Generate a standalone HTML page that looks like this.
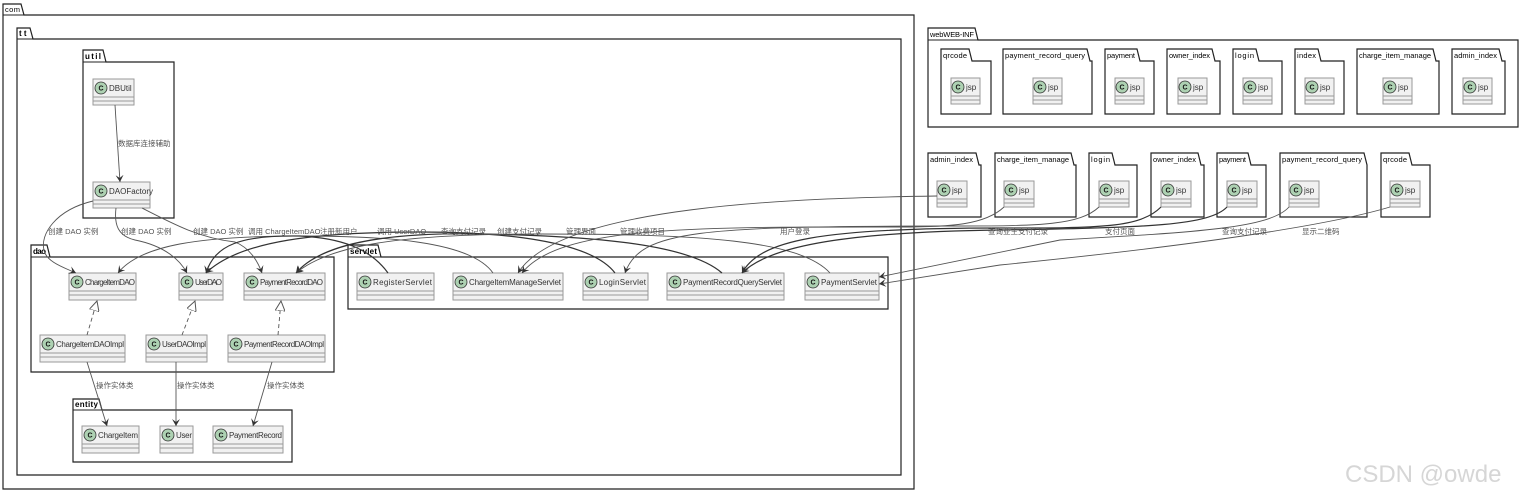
<!DOCTYPE html>
<html><head><meta charset="utf-8"><style>
html,body{margin:0;padding:0;background:#fff}
svg{display:block}
text{font-family:"Liberation Sans","Noto Sans CJK SC",sans-serif}
.pk{fill:#fff;stroke:#222;stroke-width:1.2}
.pt{font-size:8px;font-weight:bold;fill:#000}
.pn{font-size:7.5px;fill:#000}
.cb{fill:#F1F1F1;stroke:#999;stroke-width:1}
.cl{stroke:#999;stroke-width:1}
.cc{fill:#ADD1B2;stroke:#333;stroke-width:0.8}
.ct{font-size:7px;font-weight:bold;fill:#111}
.cn{font-size:8px;fill:#333}
.ln{fill:none;stroke:#555;stroke-width:0.9}
.lb{font-size:7.5px;fill:#555}
</style></head><body>
<svg width="1528" height="497" viewBox="0 0 1528 497" xmlns="http://www.w3.org/2000/svg">
<defs>
<marker id="a" markerWidth="8" markerHeight="8" refX="7" refY="4" orient="auto" markerUnits="userSpaceOnUse"><path d="M0,0 L7,4 L0,8 L3,4 Z" fill="#333"/></marker>
<marker id="t" markerWidth="12" markerHeight="10" refX="10" refY="5" orient="auto" markerUnits="userSpaceOnUse"><path d="M0,0 L10,5 L0,10 Z" fill="#fff" stroke="#555"/></marker>
</defs>

<!-- com -->
<path class="pk" d="M3,4 H21 L24,15 H914 V489 H3 Z"/><line x1="3" y1="15" x2="24" y2="15" stroke="#222"/>
<text class="pn" x="5" y="12" textLength="15">com</text>
<!-- tt -->
<path class="pk" d="M17,28 H30 L33,39 H901 V475 H17 Z"/><line x1="17" y1="39" x2="33" y2="39" stroke="#222"/>
<text class="pt" x="19" y="36">t t</text>
<!-- util -->
<path class="pk" d="M83,50 H103 L106,62 H174 V218 H83 Z"/><line x1="83" y1="62" x2="106" y2="62" stroke="#222"/>
<text class="pt" x="85" y="59" textLength="16">util</text>
<!-- dao -->
<path class="pk" d="M31,245 H47 L50,257 H334 V372 H31 Z"/><line x1="31" y1="257" x2="50" y2="257" stroke="#222"/>
<text class="pt" x="33" y="254" textLength="13">dao</text>
<!-- entity -->
<path class="pk" d="M73,399 H99 L102,410 H292 V462 H73 Z"/><line x1="73" y1="410" x2="102" y2="410" stroke="#222"/>
<text class="pt" x="75" y="407" textLength="23">entity</text>
<!-- servlet -->
<path class="pk" d="M348,245 H378 L381,257 H888 V309 H348 Z"/><line x1="348" y1="257" x2="381" y2="257" stroke="#222"/>
<text class="pt" x="350" y="254" textLength="27">servlet</text>

<!-- webWEB-INF -->
<path class="pk" d="M928,28 H975 L978,40 H1518 V127 H928 Z"/><line x1="928" y1="40" x2="978" y2="40" stroke="#222"/>
<text class="pn" x="930" y="37" textLength="44">webWEB-INF</text>

<!-- row1 packages -->
<path class="pk" d="M941,49 H969 L972,61 H991 V114 H941 Z"/><text class="pn" x="943" y="58" textLength="24">qrcode</text>
<path class="pk" d="M1003,49 H1087 L1090,61 H1092 V114 H1003 Z"/><text class="pn" x="1005" y="58" textLength="80">payment_record_query</text>
<path class="pk" d="M1105,49 H1137 L1140,61 H1154 V114 H1105 Z"/><text class="pn" x="1107" y="58" textLength="28">payment</text>
<path class="pk" d="M1167,49 H1212 L1215,61 H1220 V114 H1167 Z"/><text class="pn" x="1169" y="58" textLength="41">owner_index</text>
<path class="pk" d="M1233,49 H1256 L1259,61 H1282 V114 H1233 Z"/><text class="pn" x="1235" y="58" textLength="19">login</text>
<path class="pk" d="M1295,49 H1318 L1321,61 H1344 V114 H1295 Z"/><text class="pn" x="1297" y="58" textLength="19">index</text>
<path class="pk" d="M1357,49 H1433 L1436,61 H1439 V114 H1357 Z"/><text class="pn" x="1359" y="58" textLength="72">charge_item_manage</text>
<path class="pk" d="M1452,49 H1499 L1502,61 H1505 V114 H1452 Z"/><text class="pn" x="1454" y="58" textLength="43">admin_index</text>

<!-- row2 packages -->
<path class="pk" d="M928,153 H976 L979,165 H981 V217 H928 Z"/><text class="pn" x="930" y="162" textLength="43">admin_index</text>
<path class="pk" d="M995,153 H1071 L1074,165 H1076 V217 H995 Z"/><text class="pn" x="997" y="162" textLength="72">charge_item_manage</text>
<path class="pk" d="M1089,153 H1112 L1115,165 H1137 V217 H1089 Z"/><text class="pn" x="1091" y="162" textLength="19">login</text>
<path class="pk" d="M1151,153 H1198 L1201,165 H1204 V217 H1151 Z"/><text class="pn" x="1153" y="162" textLength="43">owner_index</text>
<path class="pk" d="M1217,153 H1248 L1251,165 H1266 V217 H1217 Z"/><text class="pn" x="1219" y="162" textLength="27">payment</text>
<path class="pk" d="M1280,153 H1364 L1367,165 H1367 V217 H1280 Z"/><text class="pn" x="1282" y="162" textLength="80">payment_record_query</text>
<path class="pk" d="M1381,153 H1409 L1412,165 H1430 V217 H1381 Z"/><text class="pn" x="1383" y="162" textLength="24">qrcode</text>

<!-- classes -->
<g>
<rect class="cb" x="93" y="79" width="41" height="26"/><line class="cl" x1="93" y1="97" x2="134" y2="97"/><line class="cl" x1="93" y1="101" x2="134" y2="101"/><circle class="cc" cx="101" cy="88" r="6"/><text class="ct" x="98.5" y="90.5">C</text><text class="cn" x="109" y="91">DBUtil</text>
<rect class="cb" x="93" y="182" width="57" height="26"/><line class="cl" x1="93" y1="200" x2="150" y2="200"/><line class="cl" x1="93" y1="204" x2="150" y2="204"/><circle class="cc" cx="101" cy="191" r="6"/><text class="ct" x="98.5" y="193.5">C</text><text class="cn" x="109" y="194">DAOFactory</text>

<rect class="cb" x="69" y="273" width="67" height="27"/><line class="cl" x1="69" y1="291" x2="136" y2="291"/><line class="cl" x1="69" y1="295" x2="136" y2="295"/><circle class="cc" cx="77" cy="282" r="6"/><text class="ct" x="74.5" y="284.5">C</text><text class="cn" x="85" y="285" textLength="50">ChargeItemDAO</text>
<rect class="cb" x="179" y="273" width="44" height="27"/><line class="cl" x1="179" y1="291" x2="223" y2="291"/><line class="cl" x1="179" y1="295" x2="223" y2="295"/><circle class="cc" cx="187" cy="282" r="6"/><text class="ct" x="184.5" y="284.5">C</text><text class="cn" x="195" y="285" textLength="27">UserDAO</text>
<rect class="cb" x="244" y="273" width="81" height="27"/><line class="cl" x1="244" y1="291" x2="325" y2="291"/><line class="cl" x1="244" y1="295" x2="325" y2="295"/><circle class="cc" cx="252" cy="282" r="6"/><text class="ct" x="249.5" y="284.5">C</text><text class="cn" x="260" y="285" textLength="63">PaymentRecordDAO</text>

<rect class="cb" x="40" y="335" width="85" height="27"/><line class="cl" x1="40" y1="353" x2="125" y2="353"/><line class="cl" x1="40" y1="357" x2="125" y2="357"/><circle class="cc" cx="48" cy="344" r="6"/><text class="ct" x="45.5" y="346.5">C</text><text class="cn" x="56" y="347" textLength="68">ChargeItemDAOImpl</text>
<rect class="cb" x="146" y="335" width="61" height="27"/><line class="cl" x1="146" y1="353" x2="207" y2="353"/><line class="cl" x1="146" y1="357" x2="207" y2="357"/><circle class="cc" cx="154" cy="344" r="6"/><text class="ct" x="151.5" y="346.5">C</text><text class="cn" x="162" y="347" textLength="44">UserDAOImpl</text>
<rect class="cb" x="228" y="335" width="97" height="27"/><line class="cl" x1="228" y1="353" x2="325" y2="353"/><line class="cl" x1="228" y1="357" x2="325" y2="357"/><circle class="cc" cx="236" cy="344" r="6"/><text class="ct" x="233.5" y="346.5">C</text><text class="cn" x="244" y="347" textLength="80">PaymentRecordDAOImpl</text>

<rect class="cb" x="82" y="426" width="57" height="27"/><line class="cl" x1="82" y1="444" x2="139" y2="444"/><line class="cl" x1="82" y1="448" x2="139" y2="448"/><circle class="cc" cx="90" cy="435" r="6"/><text class="ct" x="87.5" y="437.5">C</text><text class="cn" x="98" y="438" textLength="40">ChargeItem</text>
<rect class="cb" x="160" y="426" width="33" height="27"/><line class="cl" x1="160" y1="444" x2="193" y2="444"/><line class="cl" x1="160" y1="448" x2="193" y2="448"/><circle class="cc" cx="168" cy="435" r="6"/><text class="ct" x="165.5" y="437.5">C</text><text class="cn" x="176" y="438" textLength="16">User</text>
<rect class="cb" x="213" y="426" width="70" height="27"/><line class="cl" x1="213" y1="444" x2="283" y2="444"/><line class="cl" x1="213" y1="448" x2="283" y2="448"/><circle class="cc" cx="221" cy="435" r="6"/><text class="ct" x="218.5" y="437.5">C</text><text class="cn" x="229" y="438" textLength="53">PaymentRecord</text>

<rect class="cb" x="357" y="273" width="77" height="27"/><line class="cl" x1="357" y1="291" x2="434" y2="291"/><line class="cl" x1="357" y1="295" x2="434" y2="295"/><circle class="cc" cx="365" cy="282" r="6"/><text class="ct" x="362.5" y="284.5">C</text><text class="cn" x="373" y="285" textLength="59">RegisterServlet</text>
<rect class="cb" x="453" y="273" width="110" height="27"/><line class="cl" x1="453" y1="291" x2="563" y2="291"/><line class="cl" x1="453" y1="295" x2="563" y2="295"/><circle class="cc" cx="461" cy="282" r="6"/><text class="ct" x="458.5" y="284.5">C</text><text class="cn" x="469" y="285" textLength="92">ChargeItemManageServlet</text>
<rect class="cb" x="583" y="273" width="65" height="27"/><line class="cl" x1="583" y1="291" x2="648" y2="291"/><line class="cl" x1="583" y1="295" x2="648" y2="295"/><circle class="cc" cx="591" cy="282" r="6"/><text class="ct" x="588.5" y="284.5">C</text><text class="cn" x="599" y="285" textLength="47">LoginServlet</text>
<rect class="cb" x="667" y="273" width="117" height="27"/><line class="cl" x1="667" y1="291" x2="784" y2="291"/><line class="cl" x1="667" y1="295" x2="784" y2="295"/><circle class="cc" cx="675" cy="282" r="6"/><text class="ct" x="672.5" y="284.5">C</text><text class="cn" x="683" y="285" textLength="99">PaymentRecordQueryServlet</text>
<rect class="cb" x="805" y="273" width="74" height="27"/><line class="cl" x1="805" y1="291" x2="879" y2="291"/><line class="cl" x1="805" y1="295" x2="879" y2="295"/><circle class="cc" cx="813" cy="282" r="6"/><text class="ct" x="810.5" y="284.5">C</text><text class="cn" x="821" y="285" textLength="56">PaymentServlet</text>
</g>

<!-- jsp classes -->
<g>
<rect class="cb" x="951" y="78" width="29" height="26"/><line class="cl" x1="951" y1="96" x2="980" y2="96"/><line class="cl" x1="951" y1="100" x2="980" y2="100"/><circle class="cc" cx="958" cy="87" r="6"/><text class="ct" x="955.5" y="89.5">C</text><text class="cn" x="966" y="90">jsp</text>
<rect class="cb" x="1033" y="78" width="29" height="26"/><line class="cl" x1="1033" y1="96" x2="1062" y2="96"/><line class="cl" x1="1033" y1="100" x2="1062" y2="100"/><circle class="cc" cx="1040" cy="87" r="6"/><text class="ct" x="1037.5" y="89.5">C</text><text class="cn" x="1048" y="90">jsp</text>
<rect class="cb" x="1115" y="78" width="29" height="26"/><line class="cl" x1="1115" y1="96" x2="1144" y2="96"/><line class="cl" x1="1115" y1="100" x2="1144" y2="100"/><circle class="cc" cx="1122" cy="87" r="6"/><text class="ct" x="1119.5" y="89.5">C</text><text class="cn" x="1130" y="90">jsp</text>
<rect class="cb" x="1178" y="78" width="29" height="26"/><line class="cl" x1="1178" y1="96" x2="1207" y2="96"/><line class="cl" x1="1178" y1="100" x2="1207" y2="100"/><circle class="cc" cx="1185" cy="87" r="6"/><text class="ct" x="1182.5" y="89.5">C</text><text class="cn" x="1193" y="90">jsp</text>
<rect class="cb" x="1243" y="78" width="29" height="26"/><line class="cl" x1="1243" y1="96" x2="1272" y2="96"/><line class="cl" x1="1243" y1="100" x2="1272" y2="100"/><circle class="cc" cx="1250" cy="87" r="6"/><text class="ct" x="1247.5" y="89.5">C</text><text class="cn" x="1258" y="90">jsp</text>
<rect class="cb" x="1305" y="78" width="29" height="26"/><line class="cl" x1="1305" y1="96" x2="1334" y2="96"/><line class="cl" x1="1305" y1="100" x2="1334" y2="100"/><circle class="cc" cx="1312" cy="87" r="6"/><text class="ct" x="1309.5" y="89.5">C</text><text class="cn" x="1320" y="90">jsp</text>
<rect class="cb" x="1383" y="78" width="29" height="26"/><line class="cl" x1="1383" y1="96" x2="1412" y2="96"/><line class="cl" x1="1383" y1="100" x2="1412" y2="100"/><circle class="cc" cx="1390" cy="87" r="6"/><text class="ct" x="1387.5" y="89.5">C</text><text class="cn" x="1398" y="90">jsp</text>
<rect class="cb" x="1463" y="78" width="29" height="26"/><line class="cl" x1="1463" y1="96" x2="1492" y2="96"/><line class="cl" x1="1463" y1="100" x2="1492" y2="100"/><circle class="cc" cx="1470" cy="87" r="6"/><text class="ct" x="1467.5" y="89.5">C</text><text class="cn" x="1478" y="90">jsp</text>

<rect class="cb" x="937" y="181" width="30" height="26"/><line class="cl" x1="937" y1="199" x2="967" y2="199"/><line class="cl" x1="937" y1="203" x2="967" y2="203"/><circle class="cc" cx="944" cy="190" r="6"/><text class="ct" x="941.5" y="192.5">C</text><text class="cn" x="952" y="193">jsp</text>
<rect class="cb" x="1004" y="181" width="30" height="26"/><line class="cl" x1="1004" y1="199" x2="1034" y2="199"/><line class="cl" x1="1004" y1="203" x2="1034" y2="203"/><circle class="cc" cx="1011" cy="190" r="6"/><text class="ct" x="1008.5" y="192.5">C</text><text class="cn" x="1019" y="193">jsp</text>
<rect class="cb" x="1099" y="181" width="30" height="26"/><line class="cl" x1="1099" y1="199" x2="1129" y2="199"/><line class="cl" x1="1099" y1="203" x2="1129" y2="203"/><circle class="cc" cx="1106" cy="190" r="6"/><text class="ct" x="1103.5" y="192.5">C</text><text class="cn" x="1114" y="193">jsp</text>
<rect class="cb" x="1161" y="181" width="30" height="26"/><line class="cl" x1="1161" y1="199" x2="1191" y2="199"/><line class="cl" x1="1161" y1="203" x2="1191" y2="203"/><circle class="cc" cx="1168" cy="190" r="6"/><text class="ct" x="1165.5" y="192.5">C</text><text class="cn" x="1176" y="193">jsp</text>
<rect class="cb" x="1227" y="181" width="30" height="26"/><line class="cl" x1="1227" y1="199" x2="1257" y2="199"/><line class="cl" x1="1227" y1="203" x2="1257" y2="203"/><circle class="cc" cx="1234" cy="190" r="6"/><text class="ct" x="1231.5" y="192.5">C</text><text class="cn" x="1242" y="193">jsp</text>
<rect class="cb" x="1289" y="181" width="30" height="26"/><line class="cl" x1="1289" y1="199" x2="1319" y2="199"/><line class="cl" x1="1289" y1="203" x2="1319" y2="203"/><circle class="cc" cx="1296" cy="190" r="6"/><text class="ct" x="1293.5" y="192.5">C</text><text class="cn" x="1304" y="193">jsp</text>
<rect class="cb" x="1390" y="181" width="30" height="26"/><line class="cl" x1="1390" y1="199" x2="1420" y2="199"/><line class="cl" x1="1390" y1="203" x2="1420" y2="203"/><circle class="cc" cx="1397" cy="190" r="6"/><text class="ct" x="1394.5" y="192.5">C</text><text class="cn" x="1405" y="193">jsp</text>
</g>

<!-- connectors -->
<path class="ln" marker-end="url(#a)" d="M115,105 L120,182"/>
<text class="lb" x="118" y="146">数据库连接辅助</text>

<path class="ln" marker-end="url(#a)" d="M93,201 C55,210 40,235 44,250 C46,262 65,268 76,273"/>
<path class="ln" marker-end="url(#a)" d="M116,208 C114,225 118,236 135,240 C165,246 180,260 187,273"/>
<path class="ln" marker-end="url(#a)" d="M142,208 C175,225 200,238 235,242 C250,248 258,262 262,273"/>
<text class="lb" x="48" y="234">创建 DAO 实例</text>
<text class="lb" x="121" y="234">创建 DAO 实例</text>
<text class="lb" x="193" y="234">创建 DAO 实例</text>

<path class="ln" marker-end="url(#a)" d="M493,273 C470,240 380,236 300,236 C200,236 140,245 118,273"/>
<path class="ln" marker-end="url(#a)" style="stroke:#333;stroke-width:1.2" d="M388,273 C370,248 340,238 300,236 C240,235 215,245 206,273"/>
<path class="ln" marker-end="url(#a)" style="stroke:#333;stroke-width:1.2" d="M615,273 C590,240 500,232 420,232 C320,232 240,240 206,273"/>
<path class="ln" marker-end="url(#a)" style="stroke:#333;stroke-width:1.2" d="M722,273 C690,245 600,236 480,234 C380,232 320,245 296,273"/>
<path class="ln" marker-end="url(#a)" d="M830,273 C800,240 700,234 540,234 C400,234 330,245 296,273"/>
<text class="lb" x="248" y="234">调用 ChargeItemDAO</text>
<text class="lb" x="320" y="234">注册新用户</text>
<text class="lb" x="377" y="234">调用 UserDAO</text>
<text class="lb" x="441" y="234">查询支付记录</text>
<text class="lb" x="497" y="234">创建支付记录</text>

<path class="ln" marker-end="url(#a)" d="M937,196 C800,198 560,205 518,273"/>
<path class="ln" marker-end="url(#a)" d="M1004,207 C985,225 950,227 900,227 C700,227 560,225 522,273"/>
<path class="ln" marker-end="url(#a)" d="M1099,207 C1080,225 1040,226 960,226 C700,226 640,230 625,273"/>
<path class="ln" marker-end="url(#a)" style="stroke:#333;stroke-width:1.2" d="M1161,207 C1140,228 1100,228 1000,228 C820,228 760,240 742,273"/>
<path class="ln" marker-end="url(#a)" style="stroke:#333;stroke-width:1.2" d="M1227,207 C1210,225 1150,228 1000,230 C850,232 770,245 742,273"/>
<path class="ln" marker-end="url(#a)" d="M1289,207 C1270,228 1200,232 1060,240 L879,277"/>
<path class="ln" marker-end="url(#a)" d="M1390,207 C1330,225 1200,245 1000,265 L879,284"/>
<text class="lb" x="566" y="234">管理界面</text>
<text class="lb" x="620" y="234">管理收费项目</text>
<text class="lb" x="780" y="234">用户登录</text>
<text class="lb" x="988" y="234">查询业主支付记录</text>
<text class="lb" x="1105" y="234">支付页面</text>
<text class="lb" x="1222" y="234">查询支付记录</text>
<text class="lb" x="1302" y="234">显示二维码</text>

<path class="ln" stroke-dasharray="4,3" marker-end="url(#t)" d="M87,335 L97,301"/>
<path class="ln" stroke-dasharray="4,3" marker-end="url(#t)" d="M182,335 L195,301"/>
<path class="ln" stroke-dasharray="4,3" marker-end="url(#t)" d="M278,335 L281,301"/>

<path class="ln" marker-end="url(#a)" d="M87,362 L107,426"/>
<path class="ln" marker-end="url(#a)" d="M176,362 L176,426"/>
<path class="ln" marker-end="url(#a)" d="M272,362 L253,426"/>
<text class="lb" x="96" y="388">操作实体类</text>
<text class="lb" x="177" y="388">操作实体类</text>
<text class="lb" x="267" y="388">操作实体类</text>

<text x="1345" y="482" style="font-size:24px;fill:#d6d6d6">CSDN @owde</text>
</svg>
</body></html>
